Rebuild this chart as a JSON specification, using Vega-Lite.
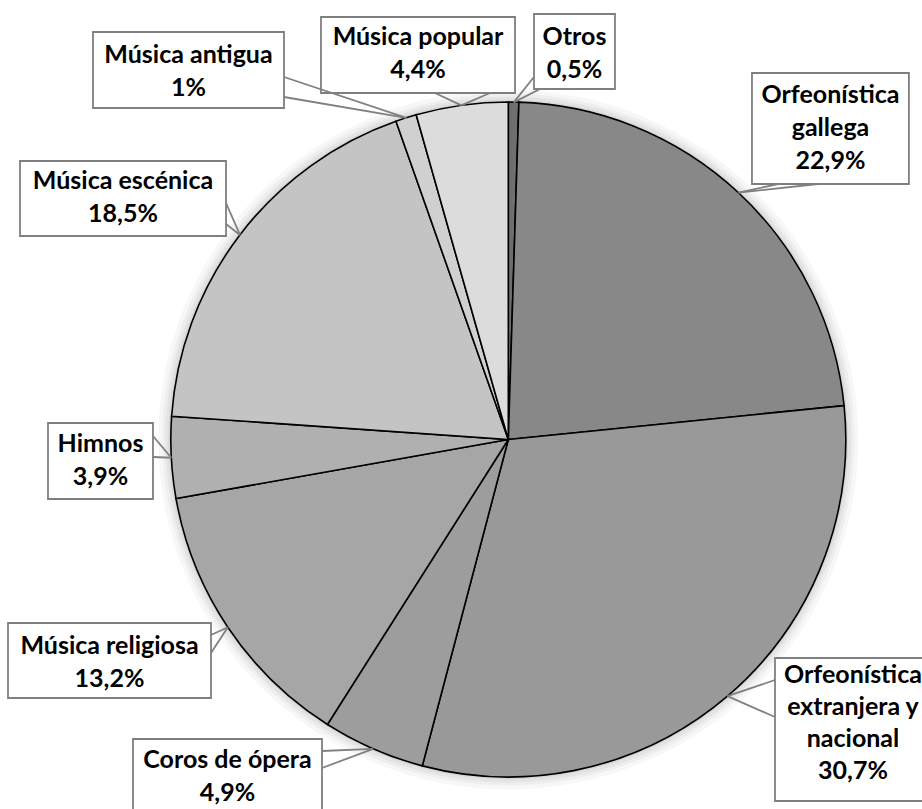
{
  "$schema": "https://vega.github.io/schema/vega-lite/v6.json",
  "width": 922,
  "height": 809,
  "padding": 0,
  "autosize": {"type": "none"},
  "background": "white",
  "config": {"view": {"stroke": null}},
  "data": {
    "values": [
      {"category": "Otros", "value": 0.5, "order": 1, "label": "Otros\n0,5%"},
      {"category": "Orfeonística gallega", "value": 22.9, "order": 2, "label": "Orfeonística\ngallega\n22,9%"},
      {"category": "Orfeonística extranjera y nacional", "value": 30.7, "order": 3, "label": "Orfeonística\nextranjera y\nnacional\n30,7%"},
      {"category": "Coros de ópera", "value": 4.9, "order": 4, "label": "Coros de ópera\n4,9%"},
      {"category": "Música religiosa", "value": 13.2, "order": 5, "label": "Música religiosa\n13,2%"},
      {"category": "Himnos", "value": 3.9, "order": 6, "label": "Himnos\n3,9%"},
      {"category": "Música escénica", "value": 18.5, "order": 7, "label": "Música escénica\n18,5%"},
      {"category": "Música antigua", "value": 1.0, "order": 8, "label": "Música antigua\n1%"},
      {"category": "Música popular", "value": 4.4, "order": 9, "label": "Música popular\n4,4%"}
    ]
  },
  "encoding": {
    "x": {"datum": 0, "type": "quantitative", "scale": {"domain": [-150.61, 122.58], "nice": false, "zero": false}, "axis": null},
    "y": {"datum": 0, "type": "quantitative", "scale": {"domain": [-109.48, 130.22], "nice": false, "zero": false}, "axis": null}
  },
  "layer": [
    {
      "transform": [{"filter": {"field": "category", "equal": "Otros"}}],
      "layer": [
        {"mark": {"type": "arc", "radius": 350, "theta": 0, "theta2": 6.2832, "fill": "#000000", "opacity": 0.03}},
        {"mark": {"type": "arc", "radius": 346, "theta": 0, "theta2": 6.2832, "fill": "#000000", "opacity": 0.035}},
        {"mark": {"type": "arc", "radius": 343, "theta": 0, "theta2": 6.2832, "fill": "#000000", "opacity": 0.04}},
        {"mark": {"type": "arc", "radius": 340, "theta": 0, "theta2": 6.2832, "fill": "#000000", "opacity": 0.05}}
      ]
    },
    {
      "mark": {"type": "arc", "radius": 337.5, "stroke": "#000000", "strokeWidth": 1.6},
      "encoding": {
        "theta": {"field": "value", "type": "quantitative", "stack": true},
        "order": {"field": "order", "type": "quantitative"},
        "color": {
          "field": "category",
          "type": "nominal",
          "legend": null,
          "scale": {
            "domain": ["Otros", "Orfeonística gallega", "Orfeonística extranjera y nacional", "Coros de ópera", "Música religiosa", "Himnos", "Música escénica", "Música antigua", "Música popular"],
            "range": ["#6f6f6f", "#888888", "#999999", "#9d9d9d", "#a6a6a6", "#b0b0b0", "#c4c4c4", "#d0d0d0", "#dcdcdc"]
          }
        }
      }
    },
    {
      "transform": [{"filter": {"field": "category", "equal": "Otros"}}],
      "layer": [
        {"mark": {"type": "rule", "color": "#808080", "strokeWidth": 1.8}, "encoding": {"x": {"datum": 7.61, "type": "quantitative"}, "y": {"datum": 107.4, "type": "quantitative"}, "x2": {"datum": 1.6}, "y2": {"datum": 99.9}}},
        {"mark": {"type": "rule", "color": "#808080", "strokeWidth": 1.8}, "encoding": {"x": {"datum": 9.4, "type": "quantitative"}, "y": {"datum": 103.85, "type": "quantitative"}, "x2": {"datum": 1.6}, "y2": {"datum": 99.9}}},
        {"mark": {"type": "rect", "fill": "white", "stroke": "#7f7f7f", "strokeWidth": 1.8}, "encoding": {"x": {"datum": 7.61, "type": "quantitative"}, "x2": {"datum": 31.61}, "y": {"datum": 103.85, "type": "quantitative"}, "y2": {"datum": 126.07}}},
        {"mark": {"type": "text", "font": "Lato", "fontWeight": "bold", "fontSize": 25, "lineHeight": 33, "lineBreak": "\n", "align": "center", "baseline": "middle", "color": "#000000"}, "encoding": {"x": {"datum": 19.61, "type": "quantitative"}, "y": {"datum": 119.4, "type": "quantitative"}, "text": {"field": "label"}}}
      ]
    },
    {
      "transform": [{"filter": {"field": "category", "equal": "Música popular"}}],
      "layer": [
        {"mark": {"type": "rule", "color": "#808080", "strokeWidth": 1.8}, "encoding": {"x": {"datum": -21.72, "type": "quantitative"}, "y": {"datum": 102.67, "type": "quantitative"}, "x2": {"datum": -13.9}, "y2": {"datum": 99.0}}},
        {"mark": {"type": "rule", "color": "#808080", "strokeWidth": 1.8}, "encoding": {"x": {"datum": -5.42, "type": "quantitative"}, "y": {"datum": 102.67, "type": "quantitative"}, "x2": {"datum": -13.9}, "y2": {"datum": 99.0}}},
        {"mark": {"type": "rect", "fill": "white", "stroke": "#7f7f7f", "strokeWidth": 1.8}, "encoding": {"x": {"datum": -55.5, "type": "quantitative"}, "x2": {"datum": 1.99}, "y": {"datum": 102.67, "type": "quantitative"}, "y2": {"datum": 125.19}}},
        {"mark": {"type": "text", "font": "Lato", "fontWeight": "bold", "fontSize": 25, "lineHeight": 33, "lineBreak": "\n", "align": "center", "baseline": "middle", "color": "#000000"}, "encoding": {"x": {"datum": -26.76, "type": "quantitative"}, "y": {"datum": 119.11, "type": "quantitative"}, "text": {"field": "label"}}}
      ]
    },
    {
      "transform": [{"filter": {"field": "category", "equal": "Música antigua"}}],
      "layer": [
        {"mark": {"type": "rule", "color": "#808080", "strokeWidth": 1.8}, "encoding": {"x": {"datum": -66.46, "type": "quantitative"}, "y": {"datum": 107.41, "type": "quantitative"}, "x2": {"datum": -30.2}, "y2": {"datum": 95.3}}},
        {"mark": {"type": "rule", "color": "#808080", "strokeWidth": 1.8}, "encoding": {"x": {"datum": -66.46, "type": "quantitative"}, "y": {"datum": 101.48, "type": "quantitative"}, "x2": {"datum": -30.2}, "y2": {"datum": 95.3}}},
        {"mark": {"type": "rect", "fill": "white", "stroke": "#7f7f7f", "strokeWidth": 1.8}, "encoding": {"x": {"datum": -123.05, "type": "quantitative"}, "x2": {"datum": -66.46}, "y": {"datum": 98.22, "type": "quantitative"}, "y2": {"datum": 120.74}}},
        {"mark": {"type": "text", "font": "Lato", "fontWeight": "bold", "fontSize": 25, "lineHeight": 33, "lineBreak": "\n", "align": "center", "baseline": "middle", "color": "#000000"}, "encoding": {"x": {"datum": -94.76, "type": "quantitative"}, "y": {"datum": 113.93, "type": "quantitative"}, "text": {"field": "label"}}}
      ]
    },
    {
      "transform": [{"filter": {"field": "category", "equal": "Música escénica"}}],
      "layer": [
        {"mark": {"type": "rule", "color": "#808080", "strokeWidth": 1.8}, "encoding": {"x": {"datum": -83.64, "type": "quantitative"}, "y": {"datum": 70.07, "type": "quantitative"}, "x2": {"datum": -79.5}, "y2": {"datum": 60.6}}},
        {"mark": {"type": "rule", "color": "#808080", "strokeWidth": 1.8}, "encoding": {"x": {"datum": -83.64, "type": "quantitative"}, "y": {"datum": 63.85, "type": "quantitative"}, "x2": {"datum": -79.5}, "y2": {"datum": 60.6}}},
        {"mark": {"type": "rect", "fill": "white", "stroke": "#7f7f7f", "strokeWidth": 1.8}, "encoding": {"x": {"datum": -144.68, "type": "quantitative"}, "x2": {"datum": -83.64}, "y": {"datum": 60.3, "type": "quantitative"}, "y2": {"datum": 82.52}}},
        {"mark": {"type": "text", "font": "Lato", "fontWeight": "bold", "fontSize": 25, "lineHeight": 33, "lineBreak": "\n", "align": "center", "baseline": "middle", "color": "#000000"}, "encoding": {"x": {"datum": -114.16, "type": "quantitative"}, "y": {"datum": 76.45, "type": "quantitative"}, "text": {"field": "label"}}}
      ]
    },
    {
      "transform": [{"filter": {"field": "category", "equal": "Himnos"}}],
      "layer": [
        {"mark": {"type": "rule", "color": "#808080", "strokeWidth": 1.8}, "encoding": {"x": {"datum": -105.28, "type": "quantitative"}, "y": {"datum": 1.04, "type": "quantitative"}, "x2": {"datum": -99.85}, "y2": {"datum": -5.41}}},
        {"mark": {"type": "rule", "color": "#808080", "strokeWidth": 1.8}, "encoding": {"x": {"datum": -105.28, "type": "quantitative"}, "y": {"datum": -5.19, "type": "quantitative"}, "x2": {"datum": -99.85}, "y2": {"datum": -5.41}}},
        {"mark": {"type": "rect", "fill": "white", "stroke": "#7f7f7f", "strokeWidth": 1.8}, "encoding": {"x": {"datum": -136.39, "type": "quantitative"}, "x2": {"datum": -105.28}, "y": {"datum": -17.63, "type": "quantitative"}, "y2": {"datum": 4.89}}},
        {"mark": {"type": "text", "font": "Lato", "fontWeight": "bold", "fontSize": 25, "lineHeight": 33, "lineBreak": "\n", "align": "center", "baseline": "middle", "color": "#000000"}, "encoding": {"x": {"datum": -120.83, "type": "quantitative"}, "y": {"datum": -1.48, "type": "quantitative"}, "text": {"field": "label"}}}
      ]
    },
    {
      "transform": [{"filter": {"field": "category", "equal": "Música religiosa"}}],
      "layer": [
        {"mark": {"type": "rule", "color": "#808080", "strokeWidth": 1.8}, "encoding": {"x": {"datum": -88.09, "type": "quantitative"}, "y": {"datum": -57.93, "type": "quantitative"}, "x2": {"datum": -83.1}, "y2": {"datum": -55.63}}},
        {"mark": {"type": "rule", "color": "#808080", "strokeWidth": 1.8}, "encoding": {"x": {"datum": -88.09, "type": "quantitative"}, "y": {"datum": -63.26, "type": "quantitative"}, "x2": {"datum": -83.1}, "y2": {"datum": -55.63}}},
        {"mark": {"type": "rect", "fill": "white", "stroke": "#7f7f7f", "strokeWidth": 1.8}, "encoding": {"x": {"datum": -148.24, "type": "quantitative"}, "x2": {"datum": -88.09}, "y": {"datum": -76.59, "type": "quantitative"}, "y2": {"datum": -54.37}}},
        {"mark": {"type": "text", "font": "Lato", "fontWeight": "bold", "fontSize": 25, "lineHeight": 33, "lineBreak": "\n", "align": "center", "baseline": "middle", "color": "#000000"}, "encoding": {"x": {"datum": -118.16, "type": "quantitative"}, "y": {"datum": -61.04, "type": "quantitative"}, "text": {"field": "label"}}}
      ]
    },
    {
      "transform": [{"filter": {"field": "category", "equal": "Coros de ópera"}}],
      "layer": [
        {"mark": {"type": "rule", "color": "#808080", "strokeWidth": 1.8}, "encoding": {"x": {"datum": -55.2, "type": "quantitative"}, "y": {"datum": -92.3, "type": "quantitative"}, "x2": {"datum": -40.03}, "y2": {"datum": -91.64}}},
        {"mark": {"type": "rule", "color": "#808080", "strokeWidth": 1.8}, "encoding": {"x": {"datum": -55.2, "type": "quantitative"}, "y": {"datum": -97.33, "type": "quantitative"}, "x2": {"datum": -40.03}, "y2": {"datum": -91.64}}},
        {"mark": {"type": "rect", "fill": "white", "stroke": "#7f7f7f", "strokeWidth": 1.8}, "encoding": {"x": {"datum": -111.2, "type": "quantitative"}, "x2": {"datum": -55.2}, "y": {"datum": -110.37, "type": "quantitative"}, "y2": {"datum": -88.74}}},
        {"mark": {"type": "text", "font": "Lato", "fontWeight": "bold", "fontSize": 25, "lineHeight": 33, "lineBreak": "\n", "align": "center", "baseline": "middle", "color": "#000000"}, "encoding": {"x": {"datum": -83.2, "type": "quantitative"}, "y": {"datum": -94.96, "type": "quantitative"}, "text": {"field": "label"}}}
      ]
    },
    {
      "transform": [{"filter": {"field": "category", "equal": "Orfeonística extranjera y nacional"}}],
      "layer": [
        {"mark": {"type": "rule", "color": "#808080", "strokeWidth": 1.8}, "encoding": {"x": {"datum": 79.02, "type": "quantitative"}, "y": {"datum": -71.26, "type": "quantitative"}, "x2": {"datum": 64.94}, "y2": {"datum": -76.04}}},
        {"mark": {"type": "rule", "color": "#808080", "strokeWidth": 1.8}, "encoding": {"x": {"datum": 79.02, "type": "quantitative"}, "y": {"datum": -82.22, "type": "quantitative"}, "x2": {"datum": 64.94}, "y2": {"datum": -76.04}}},
        {"mark": {"type": "rect", "fill": "white", "stroke": "#7f7f7f", "strokeWidth": 1.8}, "encoding": {"x": {"datum": 79.02, "type": "quantitative"}, "x2": {"datum": 125.24}, "y": {"datum": -107.11, "type": "quantitative"}, "y2": {"datum": -64.74}}},
        {"mark": {"type": "text", "font": "Lato", "fontWeight": "bold", "fontSize": 25, "lineHeight": 32, "lineBreak": "\n", "align": "center", "baseline": "middle", "color": "#000000"}, "encoding": {"x": {"datum": 102.13, "type": "quantitative"}, "y": {"datum": -69.76, "type": "quantitative"}, "text": {"field": "label"}}}
      ]
    },
    {
      "transform": [{"filter": {"field": "category", "equal": "Orfeonística gallega"}}],
      "layer": [
        {"mark": {"type": "rule", "color": "#808080", "strokeWidth": 1.8}, "encoding": {"x": {"datum": 79.91, "type": "quantitative"}, "y": {"datum": 75.7, "type": "quantitative"}, "x2": {"datum": 68.2}, "y2": {"datum": 73.14}}},
        {"mark": {"type": "rule", "color": "#808080", "strokeWidth": 1.8}, "encoding": {"x": {"datum": 91.76, "type": "quantitative"}, "y": {"datum": 75.7, "type": "quantitative"}, "x2": {"datum": 68.2}, "y2": {"datum": 73.14}}},
        {"mark": {"type": "rect", "fill": "white", "stroke": "#7f7f7f", "strokeWidth": 1.8}, "encoding": {"x": {"datum": 72.2, "type": "quantitative"}, "x2": {"datum": 118.7}, "y": {"datum": 75.7, "type": "quantitative"}, "y2": {"datum": 108.59}}},
        {"mark": {"type": "text", "font": "Lato", "fontWeight": "bold", "fontSize": 25, "lineHeight": 33, "lineBreak": "\n", "align": "center", "baseline": "middle", "color": "#000000"}, "encoding": {"x": {"datum": 95.47, "type": "quantitative"}, "y": {"datum": 102.22, "type": "quantitative"}, "text": {"field": "label"}}}
      ]
    }
  ]
}
